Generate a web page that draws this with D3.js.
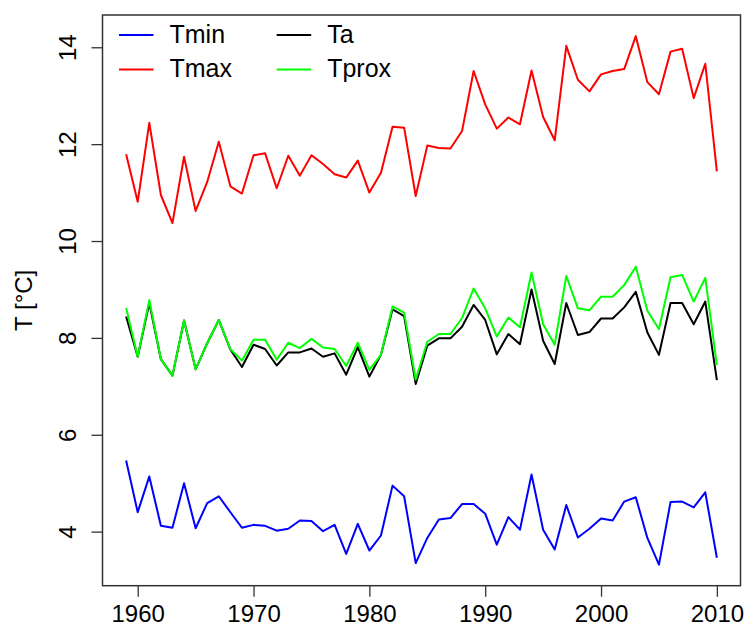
<!DOCTYPE html>
<html>
<head>
<meta charset="utf-8">
<script src="https://cdn.jsdelivr.net/npm/d3@7"></script>
<style>
  html, body { margin: 0; padding: 0; background: #fff; }
  svg { display: block; font-family: "Liberation Sans", Arial, Helvetica, sans-serif; }
</style>
</head>
<body>
<svg id="chart" width="748" height="629"></svg>
<script>
// Annual temperatures, 1959–2010
const years = d3.range(1959, 2011);

const tmin = [5.47, 4.40, 5.14, 4.12, 4.08, 5.00, 4.07, 4.59, 4.73, 4.40,
              4.08, 4.14, 4.12, 4.02, 4.06, 4.23, 4.22, 4.01, 4.14, 3.54,
              4.16, 3.61, 3.92, 4.95, 4.73, 3.35, 3.87, 4.25, 4.28, 4.57,
              4.57, 4.37, 3.73, 4.30, 4.04, 5.18, 4.04, 3.63, 4.55, 3.88,
              4.06, 4.27, 4.23, 4.62, 4.71, 3.87, 3.32, 4.61, 4.62, 4.50,
              4.81, 3.46];

const tmax = [11.79, 10.81, 12.44, 10.95, 10.37, 11.74, 10.62, 11.22, 12.05, 11.13,
              10.98, 11.77, 11.81, 11.09, 11.76, 11.35, 11.77, 11.59, 11.38, 11.31,
              11.66, 11.00, 11.41, 12.36, 12.34, 10.93, 11.97, 11.92, 11.91, 12.27,
              13.51, 12.82, 12.32, 12.55, 12.41, 13.52, 12.56, 12.08, 14.03, 13.33,
              13.09, 13.44, 13.51, 13.55, 14.23, 13.28, 13.03, 13.91, 13.97, 12.95,
              13.66, 11.44];

const ta = [8.44, 7.61, 8.72, 7.56, 7.22, 8.36, 7.35, 7.89, 8.37, 7.76,
            7.40, 7.86, 7.77, 7.43, 7.70, 7.70, 7.78, 7.61, 7.68, 7.24,
            7.81, 7.20, 7.65, 8.59, 8.45, 7.05, 7.84, 7.99, 7.99, 8.23,
            8.68, 8.37, 7.66, 8.08, 7.87, 9.00, 7.94, 7.46, 8.72, 8.06,
            8.12, 8.40, 8.40, 8.63, 8.95, 8.11, 7.65, 8.72, 8.72, 8.28,
            8.75, 7.13];

const tprox = [8.62, 7.61, 8.78, 7.56, 7.22, 8.36, 7.35, 7.89, 8.37, 7.77,
               7.53, 7.96, 7.96, 7.55, 7.90, 7.79, 7.98, 7.80, 7.77, 7.42,
               7.90, 7.34, 7.65, 8.65, 8.52, 7.14, 7.92, 8.08, 8.08, 8.41,
               9.02, 8.61, 8.03, 8.42, 8.22, 9.35, 8.28, 7.86, 9.28, 8.61,
               8.57, 8.85, 8.85, 9.09, 9.47, 8.56, 8.18, 9.25, 9.30, 8.75,
               9.24, 7.44];

const xTicks = [1960, 1970, 1980, 1990, 2000, 2010];
const yTicks = [4, 6, 8, 10, 12, 14];

const series = [
  { name: "Tmin",  values: tmin,  color: "#0000ff" },
  { name: "Tmax",  values: tmax,  color: "#ff0000" },
  { name: "Ta",    values: ta,    color: "#000000" },
  { name: "Tprox", values: tprox, color: "#00ff00" }
];

const svg = d3.select("#chart");
const plot = { left: 102.5, right: 740.5, top: 15, bottom: 585.7 };

// Both axes padded by 4% of the data range on each side
const pad = (lo, hi) => { const d = (hi - lo) * 0.04; return [lo - d, hi + d]; };
const x = d3.scaleLinear()
  .domain(pad(d3.min(years), d3.max(years)))
  .range([plot.left, plot.right]);
const allVals = [].concat(tmin, tmax, ta, tprox);
const y = d3.scaleLinear()
  .domain(pad(d3.min(allVals), d3.max(allVals)))
  .range([plot.bottom, plot.top]);

const fontSize = 24;

// X axis
const gx = svg.append("g")
  .attr("transform", `translate(0,${plot.bottom})`)
  .call(d3.axisBottom(x).tickValues(xTicks).tickFormat(d3.format("d")).tickSize(11).tickPadding(8));
gx.select(".domain").remove();
gx.selectAll(".tick line").attr("stroke", "#333").attr("stroke-width", 1.3);
gx.selectAll(".tick text")
  .attr("fill", "#000")
  .style("font-size", fontSize + "px")
  .style("font-family", "'Liberation Sans', Arial, Helvetica, sans-serif");

// Y axis (labels rotated, parallel to the axis)
const gy = svg.append("g")
  .attr("transform", `translate(${plot.left},0)`)
  .call(d3.axisLeft(y).tickValues(yTicks).tickSize(11).tickFormat(d3.format("d")));
gy.select(".domain").remove();
gy.selectAll(".tick line").attr("stroke", "#333").attr("stroke-width", 1.3);
gy.selectAll(".tick text")
  .attr("x", null).attr("dy", null)
  .attr("text-anchor", "middle")
  .attr("transform", "translate(-26.5,0) rotate(-90)")
  .attr("fill", "#000")
  .style("font-size", fontSize + "px")
  .style("font-family", "'Liberation Sans', Arial, Helvetica, sans-serif");

// Y axis title
svg.append("text")
  .attr("transform", `translate(31.5,${(plot.top + plot.bottom) / 2}) rotate(-90)`)
  .attr("text-anchor", "middle")
  .style("font-size", fontSize + "px")
  .text("T [°C]");

// Series lines
const line = d3.line()
  .x((d, i) => x(years[i]))
  .y(d => y(d));

svg.append("g").selectAll("path")
  .data(series)
  .join("path")
  .attr("d", s => line(s.values))
  .attr("fill", "none")
  .attr("stroke", s => s.color)
  .attr("stroke-width", 2)
  .attr("stroke-linejoin", "round");

// Plot frame
svg.append("rect")
  .attr("x", plot.left).attr("y", plot.top)
  .attr("width", plot.right - plot.left)
  .attr("height", plot.bottom - plot.top)
  .attr("fill", "none")
  .attr("stroke", "#333")
  .attr("stroke-width", 1.5);

// Legend: two columns, two rows
const legendOrder = ["Tmin", "Tmax", "Ta", "Tprox"];
const legend = svg.append("g");
legendOrder.forEach((name, k) => {
  const s = series.find(d => d.name === name);
  const col = Math.floor(k / 2), row = k % 2;
  const lx = 119 + col * 157.7, ly = 35 + row * 34.5;
  legend.append("line")
    .attr("x1", lx).attr("x2", lx + 34.5)
    .attr("y1", ly).attr("y2", ly)
    .attr("stroke", s.color).attr("stroke-width", 2);
  legend.append("text")
    .attr("x", lx + 50.5).attr("y", ly + 7.5)
    .style("font-size", "25px")
    .text(s.name);
});
</script>
</body>
</html>
